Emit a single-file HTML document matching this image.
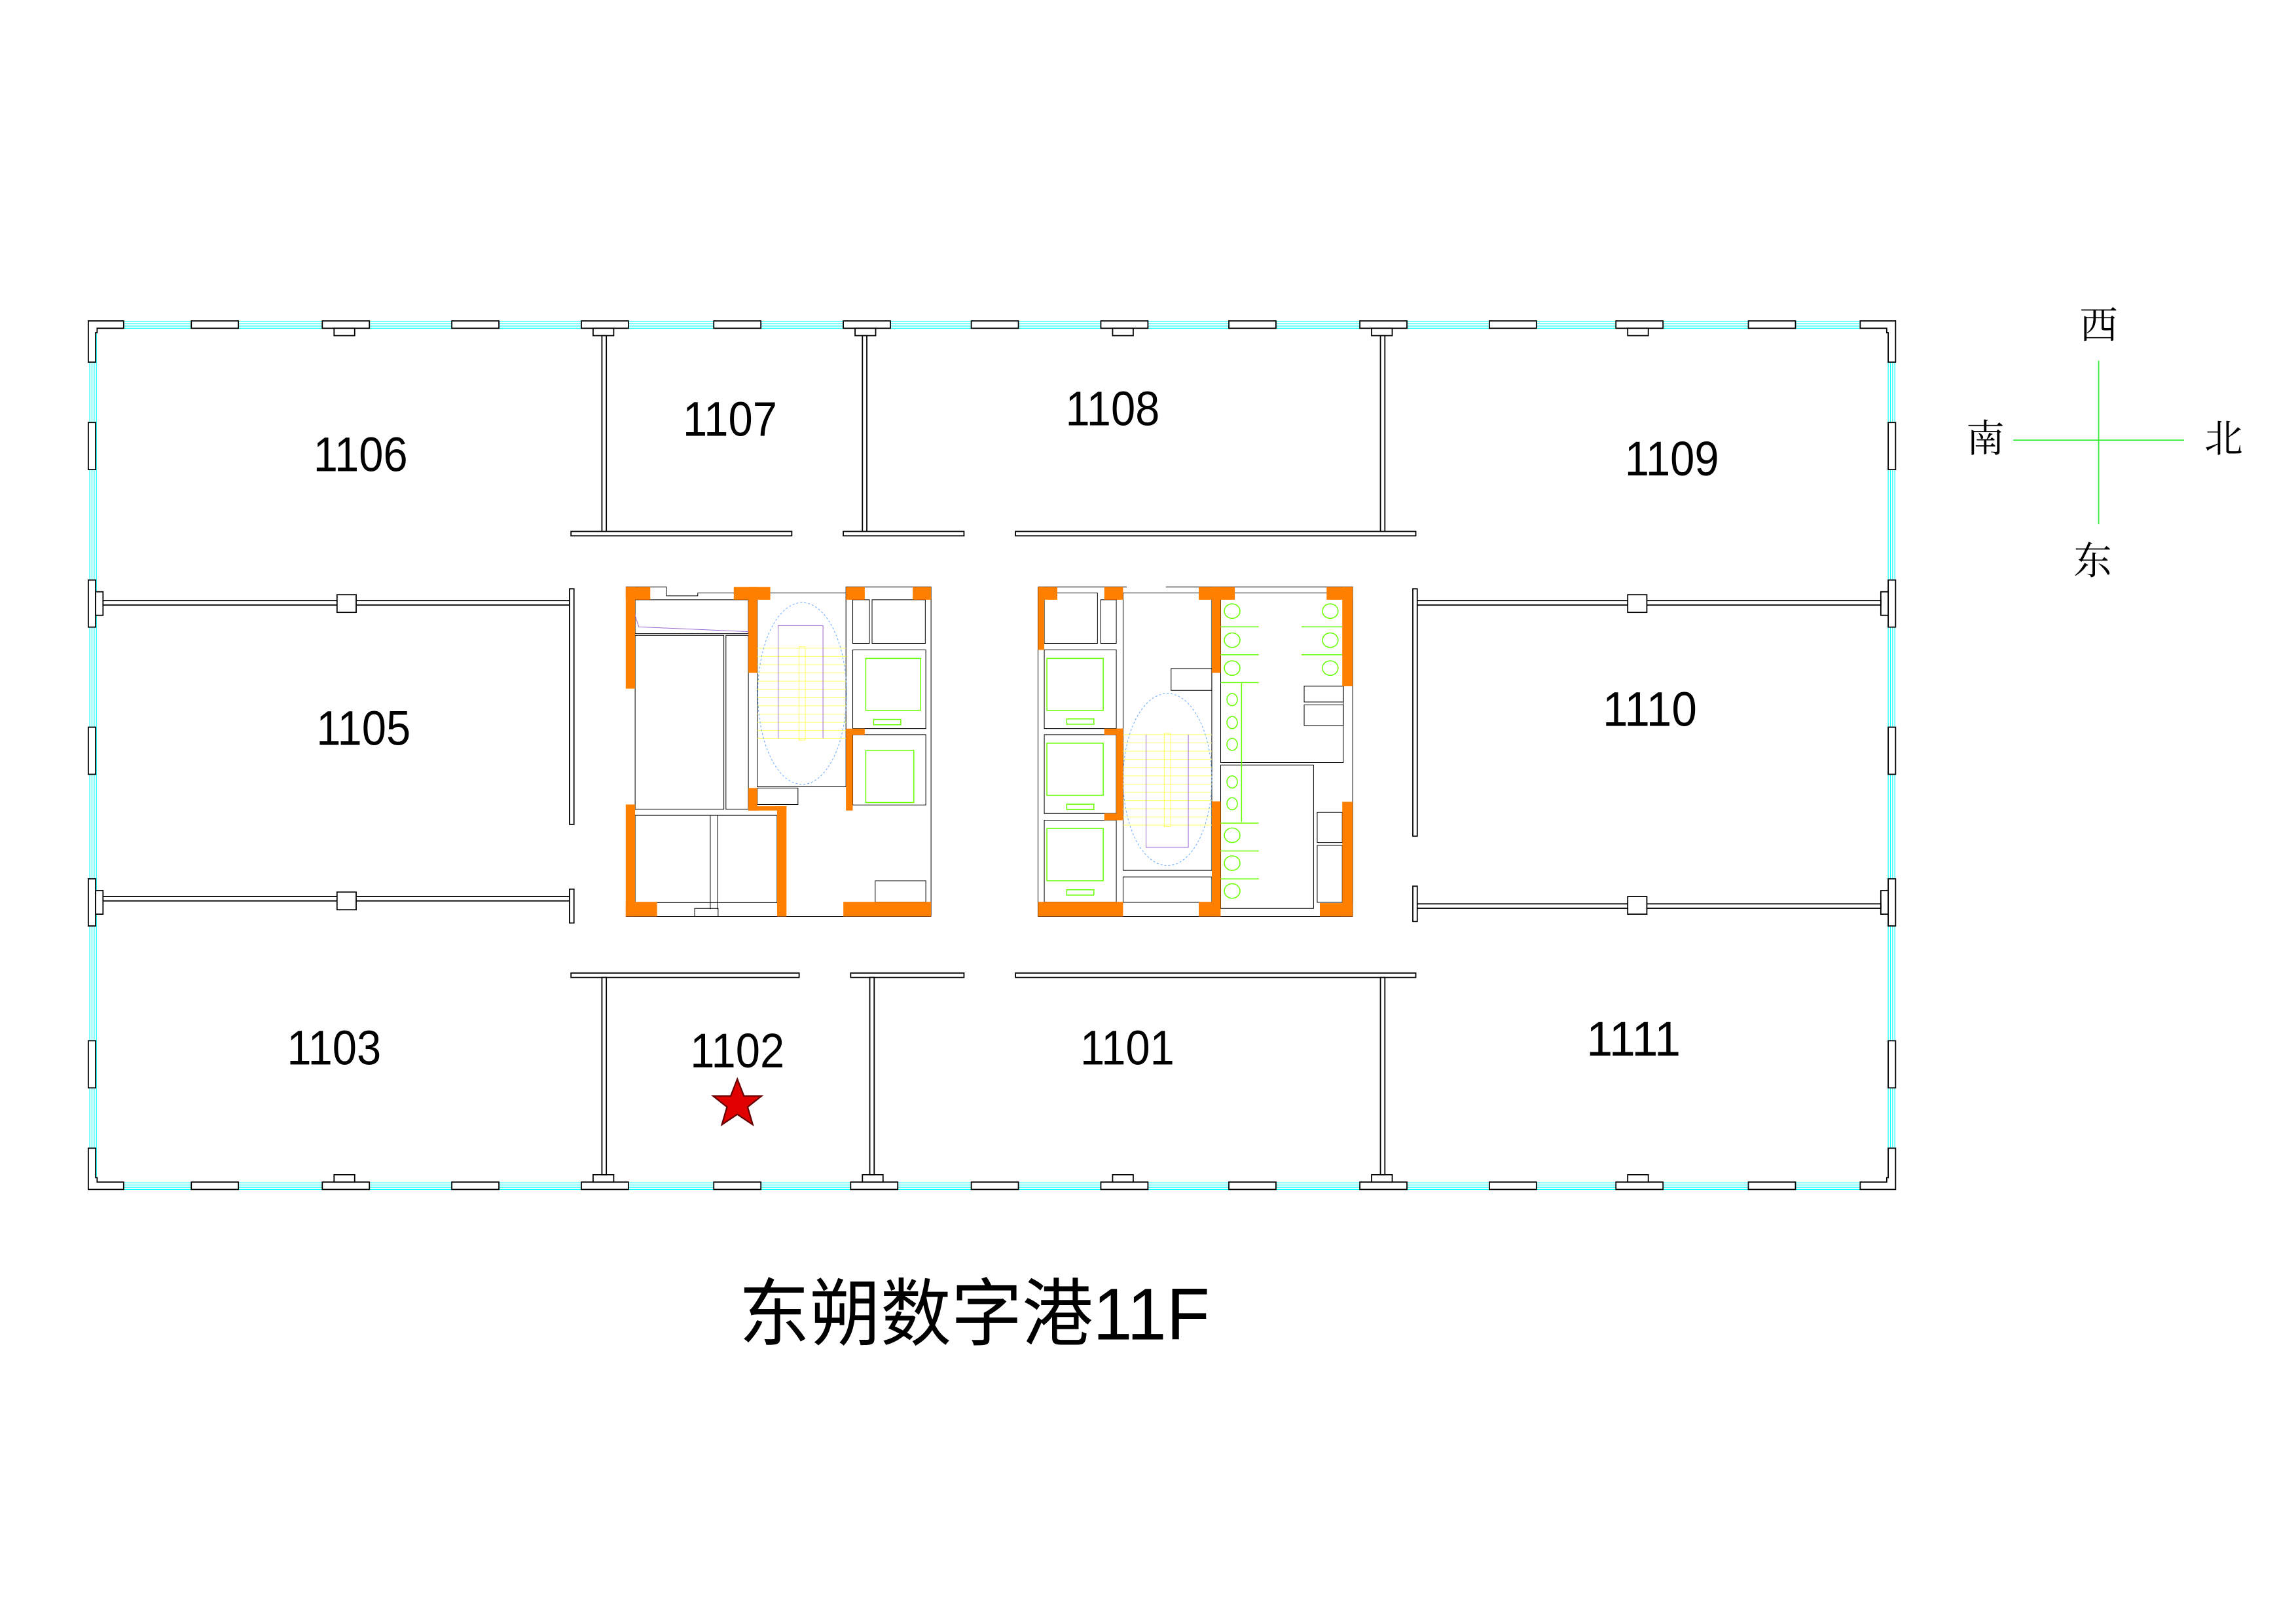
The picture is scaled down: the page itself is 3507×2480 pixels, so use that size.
<!DOCTYPE html>
<html><head><meta charset="utf-8"><style>html,body{margin:0;padding:0;background:#fff}svg{display:block}</style></head>
<body>
<svg xmlns="http://www.w3.org/2000/svg" width="3507" height="2480" viewBox="0 0 1560.1 1103.2" preserveAspectRatio="none">
<rect width="1560.1" height="1103.2" fill="#fff"/>
<!-- windows -->
<g fill="none" stroke="#00ffff" stroke-width="0.5">
<line x1="60" y1="218.5" x2="1288" y2="218.5"/><line x1="60" y1="220" x2="1288" y2="220"/><line x1="60" y1="221.5" x2="1288" y2="221.5"/><line x1="60" y1="223" x2="1288" y2="223"/>
<line x1="60" y1="803.5" x2="1288" y2="803.5"/><line x1="60" y1="805" x2="1288" y2="805"/><line x1="60" y1="806.5" x2="1288" y2="806.5"/><line x1="60" y1="808" x2="1288" y2="808"/>
<line x1="61" y1="218" x2="61" y2="808"/><line x1="62.5" y1="218" x2="62.5" y2="808"/><line x1="64" y1="218" x2="64" y2="808"/><line x1="65.5" y1="218" x2="65.5" y2="808"/>
<line x1="1283" y1="218" x2="1283" y2="808"/><line x1="1284.5" y1="218" x2="1284.5" y2="808"/><line x1="1286" y1="218" x2="1286" y2="808"/><line x1="1287.5" y1="218" x2="1287.5" y2="808"/>
</g>
<g fill="#fff" stroke="#000" stroke-width="0.8">
<!-- top piers -->
<rect x="130" y="218" width="32" height="5"/><rect x="307" y="218" width="32" height="5"/><rect x="485" y="218" width="32" height="5"/><rect x="660" y="218" width="32" height="5"/><rect x="835" y="218" width="32" height="5"/><rect x="1012" y="218" width="32" height="5"/><rect x="1188" y="218" width="32" height="5"/>
<rect x="219" y="218" width="32" height="5"/><rect x="227" y="223" width="14" height="5"/>
<rect x="395" y="218" width="32" height="5"/><rect x="403" y="223" width="14" height="5"/>
<rect x="573" y="218" width="32" height="5"/><rect x="581" y="223" width="14" height="5"/>
<rect x="748" y="218" width="32" height="5"/><rect x="756" y="223" width="14" height="5"/>
<rect x="924" y="218" width="32" height="5"/><rect x="932" y="223" width="14" height="5"/>
<rect x="1098" y="218" width="32" height="5"/><rect x="1106" y="223" width="14" height="5"/>
<!-- bottom piers -->
<rect x="130" y="803" width="32" height="5"/><rect x="307" y="803" width="32" height="5"/><rect x="485" y="803" width="32" height="5"/><rect x="660" y="803" width="32" height="5"/><rect x="835" y="803" width="32" height="5"/><rect x="1012" y="803" width="32" height="5"/><rect x="1188" y="803" width="32" height="5"/>
<rect x="219" y="803" width="32" height="5"/><rect x="227" y="798" width="14" height="5"/>
<rect x="395" y="803" width="32" height="5"/><rect x="403" y="798" width="14" height="5"/>
<rect x="578" y="803" width="32" height="5"/><rect x="586" y="798" width="14" height="5"/>
<rect x="748" y="803" width="32" height="5"/><rect x="756" y="798" width="14" height="5"/>
<rect x="924" y="803" width="32" height="5"/><rect x="932" y="798" width="14" height="5"/>
<rect x="1098" y="803" width="32" height="5"/><rect x="1106" y="798" width="14" height="5"/>
<!-- corners -->
<path d="M60 218 H84 V223 H66 V226 H65 V246 H60 Z"/>
<path d="M1288 218 H1264 V223 H1282 V226 H1283 V246 H1288 Z"/>
<path d="M60 808 H84 V803 H66 V800 H65 V780 H60 Z"/>
<path d="M1288 808 H1264 V803 H1282 V800 H1283 V780 H1288 Z"/>
<!-- side piers -->
<rect x="60" y="287" width="5" height="32"/><rect x="60" y="494" width="5" height="32"/><rect x="60" y="707" width="5" height="32"/>
<rect x="1283" y="287" width="5" height="32"/><rect x="1283" y="494" width="5" height="32"/><rect x="1283" y="707" width="5" height="32"/>
<rect x="60" y="394" width="5" height="32"/><rect x="65" y="402" width="5" height="16"/>
<rect x="60" y="597" width="5" height="32"/><rect x="65" y="605" width="5" height="16"/>
<rect x="1283" y="394" width="5" height="32"/><rect x="1278" y="402" width="5" height="16"/>
<rect x="1283" y="597" width="5" height="32"/><rect x="1278" y="605" width="5" height="16"/>
<!-- partitions top -->
<rect x="409" y="228" width="3" height="134"/><rect x="586" y="228" width="3" height="134"/><rect x="938" y="228" width="3" height="134"/>
<rect x="388" y="361" width="150" height="3"/><rect x="573" y="361" width="82" height="3"/><rect x="690" y="361" width="272" height="3"/>
<!-- horizontal mid walls -->
<rect x="70" y="408" width="318" height="3"/><rect x="962" y="408" width="316" height="3"/>
<rect x="70" y="609" width="318" height="3"/><rect x="962" y="614" width="316" height="3"/>
<rect x="229" y="404" width="13" height="12"/><rect x="229" y="606" width="13" height="12"/>
<rect x="1106" y="404" width="13" height="12"/><rect x="1106" y="609" width="13" height="12"/>
<rect x="387" y="400" width="3" height="160"/><rect x="960" y="400" width="3" height="168"/>
<rect x="387" y="604" width="3" height="23"/><rect x="960" y="602" width="3" height="24"/>
<!-- bottom partitions -->
<rect x="388" y="661" width="155" height="3"/><rect x="578" y="661" width="77" height="3"/><rect x="690" y="661" width="272" height="3"/>
<rect x="409" y="664" width="3" height="134"/><rect x="591" y="664" width="3" height="134"/><rect x="938" y="664" width="3" height="134"/>
</g>
<!-- cores: zoom coordinate system -->
<g transform="matrix(0.3546,0,0,0.1646,400.36,378.1)">
<g fill="none" stroke="#000" stroke-width="1" vector-effect="non-scaling-stroke">
<path vector-effect="non-scaling-stroke" d="M70 125 H148 V162 H208 V150 H305 M347 150 H492 V125 H655 V1485 M70 1485 H655"/>
<rect vector-effect="non-scaling-stroke" x="88" y="178" width="217" height="140"/>
<rect vector-effect="non-scaling-stroke" x="88" y="325" width="170" height="718"/>
<rect vector-effect="non-scaling-stroke" x="262" y="325" width="43" height="718"/>
<rect vector-effect="non-scaling-stroke" x="322" y="150" width="170" height="800"/>
<rect vector-effect="non-scaling-stroke" x="505" y="178" width="32" height="180"/>
<rect vector-effect="non-scaling-stroke" x="542" y="178" width="102" height="180"/>
<rect vector-effect="non-scaling-stroke" x="505" y="385" width="140" height="325"/>
<rect vector-effect="non-scaling-stroke" x="505" y="735" width="140" height="290"/>
<rect vector-effect="non-scaling-stroke" x="88" y="1068" width="272" height="360"/>
<line vector-effect="non-scaling-stroke" x1="232" y1="1068" x2="232" y2="1455"/><line vector-effect="non-scaling-stroke" x1="246" y1="1068" x2="246" y2="1455"/>
<rect vector-effect="non-scaling-stroke" x="202" y="1452" width="45" height="33"/>
<rect vector-effect="non-scaling-stroke" x="548" y="1338" width="97" height="88"/>
<rect vector-effect="non-scaling-stroke" x="322" y="955" width="78" height="68"/>
<path vector-effect="non-scaling-stroke" d="M860 125 H1030 M1105 125 H1463 V1485 M860 1485 H1463 M860 125 V1485"/>
<rect vector-effect="non-scaling-stroke" x="872" y="150" width="102" height="208"/>
<rect vector-effect="non-scaling-stroke" x="980" y="178" width="30" height="180"/>
<rect vector-effect="non-scaling-stroke" x="872" y="385" width="138" height="325"/>
<rect vector-effect="non-scaling-stroke" x="872" y="735" width="138" height="325"/>
<rect vector-effect="non-scaling-stroke" x="872" y="1088" width="138" height="338"/>
<rect vector-effect="non-scaling-stroke" x="1023" y="150" width="170" height="1145"/>
<rect vector-effect="non-scaling-stroke" x="1023" y="1322" width="170" height="105"/>
<rect vector-effect="non-scaling-stroke" x="1115" y="462" width="78" height="90"/>
<rect vector-effect="non-scaling-stroke" x="1210" y="150" width="235" height="700"/>
<rect vector-effect="non-scaling-stroke" x="1210" y="860" width="178" height="592"/>
<rect vector-effect="non-scaling-stroke" x="1370" y="535" width="75" height="65"/>
<rect vector-effect="non-scaling-stroke" x="1370" y="612" width="75" height="85"/>
<rect vector-effect="non-scaling-stroke" x="1395" y="1055" width="48" height="125"/>
<rect vector-effect="non-scaling-stroke" x="1395" y="1192" width="48" height="235"/>
</g>
<!-- stairs -->
<g stroke="#ffff66" stroke-width="1">
<line vector-effect="non-scaling-stroke" x1="322" y1="378" x2="492" y2="378"/><line vector-effect="non-scaling-stroke" x1="322" y1="412" x2="492" y2="412"/><line vector-effect="non-scaling-stroke" x1="322" y1="446" x2="492" y2="446"/><line vector-effect="non-scaling-stroke" x1="322" y1="480" x2="492" y2="480"/><line vector-effect="non-scaling-stroke" x1="322" y1="514" x2="492" y2="514"/><line vector-effect="non-scaling-stroke" x1="322" y1="548" x2="492" y2="548"/><line vector-effect="non-scaling-stroke" x1="322" y1="582" x2="492" y2="582"/><line vector-effect="non-scaling-stroke" x1="322" y1="616" x2="492" y2="616"/><line vector-effect="non-scaling-stroke" x1="322" y1="650" x2="492" y2="650"/><line vector-effect="non-scaling-stroke" x1="322" y1="684" x2="492" y2="684"/><line vector-effect="non-scaling-stroke" x1="322" y1="718" x2="492" y2="718"/><line vector-effect="non-scaling-stroke" x1="322" y1="750" x2="492" y2="750"/>
<line vector-effect="non-scaling-stroke" x1="1023" y1="735" x2="1193" y2="735"/><line vector-effect="non-scaling-stroke" x1="1023" y1="769" x2="1193" y2="769"/><line vector-effect="non-scaling-stroke" x1="1023" y1="803" x2="1193" y2="803"/><line vector-effect="non-scaling-stroke" x1="1023" y1="837" x2="1193" y2="837"/><line vector-effect="non-scaling-stroke" x1="1023" y1="871" x2="1193" y2="871"/><line vector-effect="non-scaling-stroke" x1="1023" y1="905" x2="1193" y2="905"/><line vector-effect="non-scaling-stroke" x1="1023" y1="939" x2="1193" y2="939"/><line vector-effect="non-scaling-stroke" x1="1023" y1="973" x2="1193" y2="973"/><line vector-effect="non-scaling-stroke" x1="1023" y1="1007" x2="1193" y2="1007"/><line vector-effect="non-scaling-stroke" x1="1023" y1="1041" x2="1193" y2="1041"/><line vector-effect="non-scaling-stroke" x1="1023" y1="1075" x2="1193" y2="1075"/><line vector-effect="non-scaling-stroke" x1="1023" y1="1108" x2="1193" y2="1108"/>
<rect vector-effect="non-scaling-stroke" x="402" y="372" width="12" height="385" fill="none"/>
<rect vector-effect="non-scaling-stroke" x="1102" y="730" width="12" height="385" fill="none"/>
</g>
<g fill="none" stroke="#9966cc" stroke-width="1">
<path vector-effect="non-scaling-stroke" d="M362 750 V285 H448 V750"/>
<path vector-effect="non-scaling-stroke" d="M1067 735 V1200 H1148 V735"/>
<path vector-effect="non-scaling-stroke" d="M78 178 L95 290 L305 310"/>
</g>
<g fill="none" stroke="#66aaff" stroke-width="1" stroke-dasharray="3 3">
<ellipse vector-effect="non-scaling-stroke" cx="408" cy="565" rx="85" ry="375"/>
<ellipse vector-effect="non-scaling-stroke" cx="1108" cy="920" rx="85" ry="355"/>
</g>
<g fill="none" stroke="#66ff00" stroke-width="1.5">
<rect vector-effect="non-scaling-stroke" x="530" y="420" width="105" height="215"/>
<rect vector-effect="non-scaling-stroke" x="530" y="800" width="92" height="215"/>
<rect vector-effect="non-scaling-stroke" x="877" y="420" width="108" height="215"/>
<rect vector-effect="non-scaling-stroke" x="877" y="770" width="108" height="215"/>
<rect vector-effect="non-scaling-stroke" x="877" y="1122" width="108" height="216"/>
<rect vector-effect="non-scaling-stroke" x="545" y="672" width="52" height="22"/>
<rect vector-effect="non-scaling-stroke" x="915" y="670" width="52" height="22"/>
<rect vector-effect="non-scaling-stroke" x="915" y="1022" width="52" height="22"/>
<rect vector-effect="non-scaling-stroke" x="915" y="1375" width="52" height="22"/>
<ellipse vector-effect="non-scaling-stroke" cx="1232" cy="225" rx="15" ry="30"/><ellipse vector-effect="non-scaling-stroke" cx="1232" cy="345" rx="15" ry="30"/><ellipse vector-effect="non-scaling-stroke" cx="1232" cy="460" rx="15" ry="30"/>
<ellipse vector-effect="non-scaling-stroke" cx="1420" cy="225" rx="15" ry="30"/><ellipse vector-effect="non-scaling-stroke" cx="1420" cy="345" rx="15" ry="30"/><ellipse vector-effect="non-scaling-stroke" cx="1420" cy="460" rx="15" ry="30"/>
<ellipse vector-effect="non-scaling-stroke" cx="1232" cy="590" rx="10" ry="25"/><ellipse vector-effect="non-scaling-stroke" cx="1232" cy="685" rx="10" ry="25"/><ellipse vector-effect="non-scaling-stroke" cx="1232" cy="775" rx="10" ry="25"/><ellipse vector-effect="non-scaling-stroke" cx="1232" cy="930" rx="10" ry="25"/><ellipse vector-effect="non-scaling-stroke" cx="1232" cy="1020" rx="10" ry="25"/>
<ellipse vector-effect="non-scaling-stroke" cx="1232" cy="1150" rx="15" ry="30"/><ellipse vector-effect="non-scaling-stroke" cx="1232" cy="1265" rx="15" ry="30"/><ellipse vector-effect="non-scaling-stroke" cx="1232" cy="1380" rx="15" ry="30"/>
<path vector-effect="non-scaling-stroke" d="M1210 290 H1283 M1210 405 H1283 M1210 520 H1283 M1365 290 H1443 M1365 405 H1443 M1210 1100 H1283 M1210 1215 H1283 M1210 1330 H1283 M1250 520 V1095"/>
</g>
<g fill="#ff8000">
<rect x="70" y="125" width="47" height="53"/><rect x="70" y="125" width="18" height="420"/><rect x="277" y="125" width="70" height="53"/><rect x="305" y="125" width="17" height="355"/><rect x="492" y="125" width="36" height="53"/><rect x="620" y="125" width="35" height="53"/><rect x="492" y="710" width="36" height="25"/><rect x="492" y="735" width="13" height="313"/><rect x="305" y="955" width="17" height="93"/><rect x="305" y="1030" width="73" height="18"/><rect x="360" y="1030" width="18" height="455"/><rect x="70" y="1023" width="18" height="462"/><rect x="70" y="1425" width="60" height="60"/><rect x="487" y="1425" width="168" height="60"/>
<rect x="860" y="125" width="37" height="53"/><rect x="860" y="125" width="12" height="260"/><rect x="987" y="125" width="36" height="53"/><rect x="1168" y="125" width="69" height="53"/><rect x="1193" y="125" width="17" height="355"/><rect x="1413" y="125" width="50" height="53"/><rect x="1443" y="125" width="20" height="410"/><rect x="987" y="710" width="36" height="25"/><rect x="1010" y="710" width="13" height="378"/><rect x="987" y="1060" width="36" height="28"/><rect x="860" y="1425" width="163" height="60"/><rect x="1168" y="1425" width="42" height="60"/><rect x="1193" y="1010" width="17" height="475"/><rect x="1443" y="1012" width="20" height="473"/><rect x="1400" y="1430" width="63" height="55"/>
</g>
</g>
<!-- room labels -->
<g font-family="'Liberation Sans', sans-serif" font-size="33" fill="#000" lengthAdjust="spacingAndGlyphs">
<text x="213" y="320" textLength="64" lengthAdjust="spacingAndGlyphs">1106</text>
<text x="464" y="296" textLength="64" lengthAdjust="spacingAndGlyphs">1107</text>
<text x="724" y="289" textLength="64" lengthAdjust="spacingAndGlyphs">1108</text>
<text x="1104" y="323" textLength="64" lengthAdjust="spacingAndGlyphs">1109</text>
<text x="215" y="506" textLength="64" lengthAdjust="spacingAndGlyphs">1105</text>
<text x="1089" y="493" textLength="64" lengthAdjust="spacingAndGlyphs">1110</text>
<text x="195" y="723" textLength="64" lengthAdjust="spacingAndGlyphs">1103</text>
<text x="469" y="725" textLength="64" lengthAdjust="spacingAndGlyphs">1102</text>
<text x="734" y="723" textLength="64" lengthAdjust="spacingAndGlyphs">1101</text>
<text x="1078" y="717" textLength="64" lengthAdjust="spacingAndGlyphs">1111</text>
</g>
<!-- star -->
<polygon points="501,733 505.5,744.5 517.5,744.5 508,752 511.5,764 501,757 490.5,764 494,752 484.5,744.5 496.5,744.5" fill="#e00000" stroke="#600" stroke-width="1"/>
<!-- compass -->
<line x1="1426" y1="245" x2="1426" y2="356" stroke="#33ee33" stroke-width="0.8"/>
<line x1="1368" y1="299" x2="1484" y2="299" stroke="#33ee33" stroke-width="0.8"/>
<g font-family="'Liberation Serif', 'Noto Serif CJK SC', serif" font-size="26" fill="#000" text-anchor="middle">
<text x="1426" y="230">西</text>
<text x="1349" y="307">南</text>
<text x="1511" y="307">北</text>
<text x="1422" y="390">东</text>
</g>
<text x="502" y="910" font-family="'Liberation Sans', 'Noto Sans CJK SC', sans-serif" font-size="50" textLength="320" lengthAdjust="spacingAndGlyphs" fill="#000">东朔数字港11F</text>
</svg>
</body></html>
